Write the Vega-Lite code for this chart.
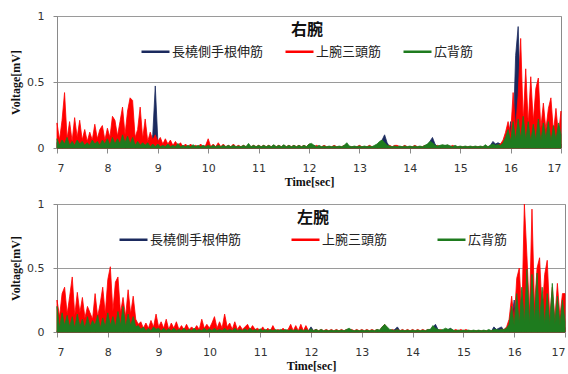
{
"$schema":"https://vega.github.io/schema/vega-lite/v6.json",
"padding":{"left":9,"top":9,"right":0,"bottom":0},
"spacing":9,
"config":{
 "view":{"stroke":"#8a8a8a"},
 "axis":{"domainColor":"#8a8a8a","tickColor":"#8a8a8a","gridColor":"#9a9a9a","labelFont":"DejaVu Sans","labelFontSize":11,"labelColor":"#333333","titleFont":"Liberation Serif","titleFontWeight":"bold","titleFontSize":12,"titleColor":"#111111"},
 "axisX":{"grid":false,"tickSize":5,"labelPadding":9,"titlePadding":3},
 "axisY":{"grid":true,"tickSize":4,"labelPadding":9,"titlePadding":4},
 "legend":{"labelFont":"Noto Sans CJK JP","labelFontSize":13,"labelColor":"#222222","symbolType":"stroke","symbolSize":784,"symbolStrokeWidth":2.5,"labelOffset":1,"padding":0,"rowPadding":0,"titleFont":"Noto Sans CJK JP","titleFontWeight":"bold","titleFontSize":16,"titleColor":"#111111","titleAnchor":"middle","titlePadding":-2}
},
"data":{"values":[
{"t":7.00,"a":0.04,"b":0.19,"c":0.07,"d":0.01,"e":0.25,"f":0.2},
{"t":7.05,"a":0.015,"b":0.06,"c":0.02,"d":0.005,"e":0.12,"f":0.03},
{"t":7.10,"a":0.05,"b":0.21,"c":0.06,"d":0.015,"e":0.3,"f":0.15},
{"t":7.15,"a":0.02,"b":0.42,"c":0.03,"d":0.01,"e":0.35,"f":0.05},
{"t":7.20,"a":0.04,"b":0.07,"c":0.08,"d":0.02,"e":0.14,"f":0.13},
{"t":7.25,"a":0.01,"b":0.2,"c":0.02,"d":0.005,"e":0.28,"f":0.04},
{"t":7.30,"a":0.05,"b":0.05,"c":0.05,"d":0.015,"e":0.43,"f":0.12},
{"t":7.35,"a":0.02,"b":0.23,"c":0.02,"d":0.01,"e":0.13,"f":0.03},
{"t":7.40,"a":0.04,"b":0.08,"c":0.06,"d":0.02,"e":0.31,"f":0.14},
{"t":7.45,"a":0.015,"b":0.21,"c":0.03,"d":0.005,"e":0.15,"f":0.04},
{"t":7.50,"a":0.035,"b":0.06,"c":0.05,"d":0.015,"e":0.27,"f":0.1},
{"t":7.55,"a":0.01,"b":0.14,"c":0.02,"d":0.01,"e":0.11,"f":0.03},
{"t":7.60,"a":0.04,"b":0.05,"c":0.04,"d":0.02,"e":0.2,"f":0.12},
{"t":7.65,"a":0.02,"b":0.12,"c":0.02,"d":0.005,"e":0.15,"f":0.04},
{"t":7.70,"a":0.045,"b":0.06,"c":0.06,"d":0.015,"e":0.1,"f":0.09},
{"t":7.75,"a":0.01,"b":0.18,"c":0.03,"d":0.01,"e":0.3,"f":0.05},
{"t":7.80,"a":0.04,"b":0.07,"c":0.05,"d":0.02,"e":0.12,"f":0.13},
{"t":7.85,"a":0.015,"b":0.14,"c":0.02,"d":0.005,"e":0.22,"f":0.03},
{"t":7.90,"a":0.05,"b":0.17,"c":0.06,"d":0.015,"e":0.35,"f":0.11},
{"t":7.95,"a":0.02,"b":0.06,"c":0.03,"d":0.01,"e":0.14,"f":0.04},
{"t":8.00,"a":0.045,"b":0.15,"c":0.07,"d":0.02,"e":0.41,"f":0.15},
{"t":8.05,"a":0.015,"b":0.08,"c":0.02,"d":0.005,"e":0.51,"f":0.05},
{"t":8.10,"a":0.05,"b":0.24,"c":0.08,"d":0.015,"e":0.16,"f":0.12},
{"t":8.15,"a":0.02,"b":0.21,"c":0.03,"d":0.01,"e":0.39,"f":0.04},
{"t":8.20,"a":0.06,"b":0.09,"c":0.07,"d":0.02,"e":0.43,"f":0.16},
{"t":8.25,"a":0.02,"b":0.2,"c":0.03,"d":0.005,"e":0.15,"f":0.05},
{"t":8.30,"a":0.06,"b":0.31,"c":0.1,"d":0.015,"e":0.27,"f":0.2},
{"t":8.35,"a":0.025,"b":0.1,"c":0.04,"d":0.01,"e":0.12,"f":0.04},
{"t":8.40,"a":0.05,"b":0.28,"c":0.09,"d":0.02,"e":0.33,"f":0.14},
{"t":8.45,"a":0.02,"b":0.38,"c":0.03,"d":0.005,"e":0.14,"f":0.05},
{"t":8.50,"a":0.05,"b":0.36,"c":0.08,"d":0.015,"e":0.28,"f":0.12},
{"t":8.55,"a":0.015,"b":0.08,"c":0.02,"d":0.01,"e":0.1,"f":0.04},
{"t":8.60,"a":0.04,"b":0.14,"c":0.05,"d":0.01,"e":0.06,"f":0.05},
{"t":8.65,"a":0.015,"b":0.31,"c":0.02,"d":0.005,"e":0.08,"f":0.02},
{"t":8.70,"a":0.03,"b":0.07,"c":0.04,"d":0.01,"e":0.03,"f":0.04},
{"t":8.75,"a":0.01,"b":0.22,"c":0.02,"d":0.005,"e":0.07,"f":0.01},
{"t":8.80,"a":0.03,"b":0.05,"c":0.04,"d":0.01,"e":0.03,"f":0.03},
{"t":8.85,"a":0.01,"b":0.12,"c":0.01,"d":0.005,"e":0.09,"f":0.01},
{"t":8.90,"a":0.1,"b":0.06,"c":0.03,"d":0.01,"e":0.04,"f":0.04},
{"t":8.95,"a":0.47,"b":0.1,"c":0.01,"d":0.005,"e":0.14,"f":0.02},
{"t":9.00,"a":0.06,"b":0.05,"c":0.03,"d":0.01,"e":0.04,"f":0.03},
{"t":9.05,"a":0.01,"b":0.08,"c":0.01,"d":0.005,"e":0.08,"f":0.01},
{"t":9.10,"a":0.02,"b":0.03,"c":0.02,"d":0.01,"e":0.03,"f":0.03},
{"t":9.15,"a":0.01,"b":0.07,"c":0.01,"d":0.005,"e":0.1,"f":0.01},
{"t":9.20,"a":0.02,"b":0.03,"c":0.03,"d":0.01,"e":0.02,"f":0.025},
{"t":9.25,"a":0.005,"b":0.06,"c":0.01,"d":0.005,"e":0.07,"f":0.01},
{"t":9.30,"a":0.015,"b":0.02,"c":0.02,"d":0.01,"e":0.03,"f":0.03},
{"t":9.35,"a":0.005,"b":0.05,"c":0.01,"d":0.005,"e":0.08,"f":0.01},
{"t":9.40,"a":0.02,"b":0.02,"c":0.035,"d":0.01,"e":0.02,"f":0.02},
{"t":9.45,"a":0.005,"b":0.04,"c":0.01,"d":0.005,"e":0.05,"f":0.01},
{"t":9.50,"a":0.015,"b":0.01,"c":0.02,"d":0.01,"e":0.02,"f":0.03},
{"t":9.55,"a":0.005,"b":0.03,"c":0.01,"d":0.005,"e":0.06,"f":0.01},
{"t":9.60,"a":0.01,"b":0.01,"c":0.02,"d":0.01,"e":0.02,"f":0.02},
{"t":9.65,"a":0.005,"b":0.03,"c":0.01,"d":0.005,"e":0.04,"f":0.01},
{"t":9.70,"a":0.015,"b":0.01,"c":0.025,"d":0.01,"e":0.02,"f":0.03},
{"t":9.75,"a":0.005,"b":0.02,"c":0.01,"d":0.005,"e":0.05,"f":0.01},
{"t":9.80,"a":0.01,"b":0.01,"c":0.02,"d":0.01,"e":0.02,"f":0.02},
{"t":9.85,"a":0.005,"b":0.03,"c":0.01,"d":0.005,"e":0.1,"f":0.01},
{"t":9.90,"a":0.015,"b":0.01,"c":0.02,"d":0.01,"e":0.03,"f":0.03},
{"t":9.95,"a":0.005,"b":0.02,"c":0.01,"d":0.005,"e":0.06,"f":0.01},
{"t":10.00,"a":0.01,"b":0.07,"c":0.02,"d":0.01,"e":0.03,"f":0.025},
{"t":10.05,"a":0.005,"b":0.01,"c":0.01,"d":0.005,"e":0.07,"f":0.01},
{"t":10.10,"a":0.015,"b":0.03,"c":0.02,"d":0.01,"e":0.12,"f":0.03},
{"t":10.15,"a":0.005,"b":0.01,"c":0.01,"d":0.005,"e":0.03,"f":0.01},
{"t":10.20,"a":0.01,"b":0.04,"c":0.02,"d":0.01,"e":0.08,"f":0.02},
{"t":10.25,"a":0.005,"b":0.01,"c":0.01,"d":0.005,"e":0.03,"f":0.01},
{"t":10.30,"a":0.015,"b":0.03,"c":0.02,"d":0.01,"e":0.14,"f":0.03},
{"t":10.35,"a":0.005,"b":0.01,"c":0.01,"d":0.005,"e":0.04,"f":0.01},
{"t":10.40,"a":0.01,"b":0.02,"c":0.02,"d":0.01,"e":0.07,"f":0.02},
{"t":10.45,"a":0.005,"b":0.01,"c":0.01,"d":0.005,"e":0.02,"f":0.01},
{"t":10.50,"a":0.015,"b":0.03,"c":0.02,"d":0.01,"e":0.08,"f":0.03},
{"t":10.55,"a":0.005,"b":0.01,"c":0.01,"d":0.005,"e":0.02,"f":0.01},
{"t":10.60,"a":0.01,"b":0.02,"c":0.015,"d":0.01,"e":0.05,"f":0.02},
{"t":10.65,"a":0.005,"b":0.01,"c":0.01,"d":0.005,"e":0.02,"f":0.01},
{"t":10.70,"a":0.01,"b":0.02,"c":0.02,"d":0.01,"e":0.04,"f":0.025},
{"t":10.75,"a":0.005,"b":0.01,"c":0.01,"d":0.005,"e":0.06,"f":0.01},
{"t":10.80,"a":0.015,"b":0.02,"c":0.035,"d":0.01,"e":0.02,"f":0.03},
{"t":10.85,"a":0.005,"b":0.01,"c":0.01,"d":0.005,"e":0.05,"f":0.01},
{"t":10.90,"a":0.01,"b":0.02,"c":0.02,"d":0.01,"e":0.02,"f":0.02},
{"t":10.95,"a":0.005,"b":0.01,"c":0.01,"d":0.005,"e":0.03,"f":0.01},
{"t":11.00,"a":0.015,"b":0.02,"c":0.02,"d":0.01,"e":0.01,"f":0.025},
{"t":11.05,"a":0.005,"b":0.01,"c":0.01,"d":0.005,"e":0.04,"f":0.01},
{"t":11.10,"a":0.01,"b":0.02,"c":0.02,"d":0.01,"e":0.01,"f":0.02},
{"t":11.15,"a":0.005,"b":0.01,"c":0.01,"d":0.005,"e":0.03,"f":0.01},
{"t":11.20,"a":0.01,"b":0.02,"c":0.02,"d":0.01,"e":0.01,"f":0.02},
{"t":11.25,"a":0.005,"b":0.01,"c":0.01,"d":0.005,"e":0.05,"f":0.01},
{"t":11.30,"a":0.015,"b":0.02,"c":0.025,"d":0.01,"e":0.01,"f":0.02},
{"t":11.35,"a":0.005,"b":0.01,"c":0.01,"d":0.005,"e":0.02,"f":0.01},
{"t":11.40,"a":0.01,"b":0.02,"c":0.02,"d":0.01,"e":0.01,"f":0.02},
{"t":11.45,"a":0.005,"b":0.01,"c":0.01,"d":0.005,"e":0.03,"f":0.01},
{"t":11.50,"a":0.015,"b":0.02,"c":0.025,"d":0.01,"e":0.01,"f":0.02},
{"t":11.55,"a":0.005,"b":0.01,"c":0.01,"d":0.005,"e":0.02,"f":0.01},
{"t":11.60,"a":0.01,"b":0.02,"c":0.02,"d":0.01,"e":0.06,"f":0.02},
{"t":11.65,"a":0.005,"b":0.01,"c":0.01,"d":0.005,"e":0.01,"f":0.01},
{"t":11.70,"a":0.01,"b":0.02,"c":0.02,"d":0.01,"e":0.05,"f":0.02},
{"t":11.75,"a":0.005,"b":0.01,"c":0.01,"d":0.005,"e":0.01,"f":0.01},
{"t":11.80,"a":0.015,"b":0.02,"c":0.02,"d":0.01,"e":0.06,"f":0.02},
{"t":11.85,"a":0.005,"b":0.01,"c":0.01,"d":0.005,"e":0.01,"f":0.01},
{"t":11.90,"a":0.01,"b":0.02,"c":0.02,"d":0.02,"e":0.05,"f":0.02},
{"t":11.95,"a":0.005,"b":0.01,"c":0.01,"d":0.01,"e":0.01,"f":0.01},
{"t":12.00,"a":0.02,"b":0.03,"c":0.03,"d":0.04,"e":0.02,"f":0.025},
{"t":12.05,"a":0.01,"b":0.02,"c":0.035,"d":0.01,"e":0.01,"f":0.01},
{"t":12.10,"a":0.02,"b":0.01,"c":0.02,"d":0.02,"e":0.02,"f":0.02},
{"t":12.15,"a":0.005,"b":0.02,"c":0.01,"d":0.005,"e":0.01,"f":0.01},
{"t":12.20,"a":0.01,"b":0.01,"c":0.02,"d":0.01,"e":0.02,"f":0.02},
{"t":12.25,"a":0.005,"b":0.01,"c":0.01,"d":0.005,"e":0.01,"f":0.01},
{"t":12.30,"a":0.01,"b":0.02,"c":0.015,"d":0.01,"e":0.02,"f":0.015},
{"t":12.35,"a":0.005,"b":0.01,"c":0.01,"d":0.005,"e":0.01,"f":0.01},
{"t":12.40,"a":0.01,"b":0.01,"c":0.015,"d":0.01,"e":0.02,"f":0.015},
{"t":12.45,"a":0.005,"b":0.01,"c":0.01,"d":0.005,"e":0.01,"f":0.01},
{"t":12.50,"a":0.01,"b":0.02,"c":0.015,"d":0.01,"e":0.02,"f":0.015},
{"t":12.55,"a":0.005,"b":0.01,"c":0.01,"d":0.005,"e":0.01,"f":0.01},
{"t":12.60,"a":0.01,"b":0.01,"c":0.015,"d":0.01,"e":0.02,"f":0.015},
{"t":12.65,"a":0.005,"b":0.01,"c":0.01,"d":0.005,"e":0.01,"f":0.01},
{"t":12.70,"a":0.01,"b":0.02,"c":0.02,"d":0.01,"e":0.02,"f":0.02},
{"t":12.75,"a":0.01,"b":0.02,"c":0.04,"d":0.005,"e":0.01,"f":0.03},
{"t":12.80,"a":0.01,"b":0.01,"c":0.015,"d":0.01,"e":0.02,"f":0.015},
{"t":12.85,"a":0.005,"b":0.01,"c":0.01,"d":0.005,"e":0.01,"f":0.01},
{"t":12.90,"a":0.01,"b":0.01,"c":0.015,"d":0.01,"e":0.02,"f":0.015},
{"t":12.95,"a":0.005,"b":0.01,"c":0.01,"d":0.005,"e":0.01,"f":0.01},
{"t":13.00,"a":0.01,"b":0.02,"c":0.015,"d":0.01,"e":0.02,"f":0.015},
{"t":13.05,"a":0.005,"b":0.01,"c":0.01,"d":0.005,"e":0.01,"f":0.01},
{"t":13.10,"a":0.01,"b":0.01,"c":0.015,"d":0.01,"e":0.02,"f":0.015},
{"t":13.15,"a":0.005,"b":0.01,"c":0.01,"d":0.005,"e":0.01,"f":0.01},
{"t":13.20,"a":0.01,"b":0.02,"c":0.015,"d":0.01,"e":0.02,"f":0.015},
{"t":13.25,"a":0.005,"b":0.01,"c":0.01,"d":0.005,"e":0.01,"f":0.01},
{"t":13.30,"a":0.01,"b":0.01,"c":0.02,"d":0.01,"e":0.02,"f":0.02},
{"t":13.35,"a":0.01,"b":0.02,"c":0.03,"d":0.005,"e":0.01,"f":0.015},
{"t":13.40,"a":0.03,"b":0.02,"c":0.05,"d":0.01,"e":0.04,"f":0.04},
{"t":13.45,"a":0.06,"b":0.03,"c":0.06,"d":0.01,"e":0.06,"f":0.06},
{"t":13.50,"a":0.1,"b":0.02,"c":0.04,"d":0.01,"e":0.03,"f":0.04},
{"t":13.55,"a":0.04,"b":0.01,"c":0.02,"d":0.005,"e":0.01,"f":0.02},
{"t":13.60,"a":0.01,"b":0.02,"c":0.015,"d":0.01,"e":0.02,"f":0.015},
{"t":13.65,"a":0.005,"b":0.01,"c":0.01,"d":0.02,"e":0.01,"f":0.01},
{"t":13.70,"a":0.01,"b":0.02,"c":0.015,"d":0.04,"e":0.02,"f":0.02},
{"t":13.75,"a":0.005,"b":0.02,"c":0.01,"d":0.01,"e":0.01,"f":0.01},
{"t":13.80,"a":0.01,"b":0.01,"c":0.015,"d":0.01,"e":0.02,"f":0.015},
{"t":13.85,"a":0.005,"b":0.01,"c":0.01,"d":0.005,"e":0.01,"f":0.01},
{"t":13.90,"a":0.01,"b":0.02,"c":0.015,"d":0.01,"e":0.02,"f":0.015},
{"t":13.95,"a":0.005,"b":0.01,"c":0.01,"d":0.005,"e":0.01,"f":0.01},
{"t":14.00,"a":0.01,"b":0.01,"c":0.015,"d":0.01,"e":0.02,"f":0.015},
{"t":14.05,"a":0.005,"b":0.01,"c":0.01,"d":0.005,"e":0.01,"f":0.01},
{"t":14.10,"a":0.01,"b":0.02,"c":0.015,"d":0.01,"e":0.02,"f":0.015},
{"t":14.15,"a":0.005,"b":0.01,"c":0.01,"d":0.005,"e":0.01,"f":0.01},
{"t":14.20,"a":0.01,"b":0.01,"c":0.015,"d":0.01,"e":0.02,"f":0.015},
{"t":14.25,"a":0.005,"b":0.01,"c":0.01,"d":0.005,"e":0.01,"f":0.01},
{"t":14.30,"a":0.01,"b":0.02,"c":0.02,"d":0.01,"e":0.02,"f":0.02},
{"t":14.35,"a":0.02,"b":0.01,"c":0.03,"d":0.02,"e":0.01,"f":0.02},
{"t":14.40,"a":0.05,"b":0.02,"c":0.05,"d":0.04,"e":0.03,"f":0.05},
{"t":14.45,"a":0.08,"b":0.02,"c":0.04,"d":0.06,"e":0.02,"f":0.03},
{"t":14.50,"a":0.03,"b":0.01,"c":0.02,"d":0.02,"e":0.01,"f":0.02},
{"t":14.55,"a":0.01,"b":0.02,"c":0.015,"d":0.01,"e":0.02,"f":0.015},
{"t":14.60,"a":0.015,"b":0.01,"c":0.02,"d":0.01,"e":0.01,"f":0.02},
{"t":14.65,"a":0.01,"b":0.02,"c":0.025,"d":0.01,"e":0.02,"f":0.03},
{"t":14.70,"a":0.02,"b":0.01,"c":0.02,"d":0.02,"e":0.01,"f":0.02},
{"t":14.75,"a":0.01,"b":0.02,"c":0.025,"d":0.03,"e":0.02,"f":0.025},
{"t":14.80,"a":0.015,"b":0.01,"c":0.015,"d":0.01,"e":0.01,"f":0.015},
{"t":14.85,"a":0.005,"b":0.02,"c":0.01,"d":0.005,"e":0.02,"f":0.01},
{"t":14.90,"a":0.01,"b":0.01,"c":0.02,"d":0.01,"e":0.01,"f":0.015},
{"t":14.95,"a":0.005,"b":0.01,"c":0.01,"d":0.005,"e":0.02,"f":0.01},
{"t":15.00,"a":0.01,"b":0.01,"c":0.015,"d":0.01,"e":0.01,"f":0.015},
{"t":15.05,"a":0.005,"b":0.01,"c":0.01,"d":0.005,"e":0.02,"f":0.01},
{"t":15.10,"a":0.01,"b":0.01,"c":0.015,"d":0.01,"e":0.01,"f":0.015},
{"t":15.15,"a":0.005,"b":0.01,"c":0.01,"d":0.005,"e":0.01,"f":0.01},
{"t":15.20,"a":0.01,"b":0.01,"c":0.015,"d":0.01,"e":0.01,"f":0.015},
{"t":15.25,"a":0.005,"b":0.01,"c":0.01,"d":0.005,"e":0.01,"f":0.01},
{"t":15.30,"a":0.01,"b":0.01,"c":0.015,"d":0.01,"e":0.01,"f":0.015},
{"t":15.35,"a":0.005,"b":0.01,"c":0.01,"d":0.005,"e":0.01,"f":0.01},
{"t":15.40,"a":0.01,"b":0.01,"c":0.015,"d":0.01,"e":0.01,"f":0.015},
{"t":15.45,"a":0.005,"b":0.01,"c":0.01,"d":0.005,"e":0.01,"f":0.01},
{"t":15.50,"a":0.015,"b":0.01,"c":0.025,"d":0.01,"e":0.01,"f":0.02},
{"t":15.55,"a":0.005,"b":0.01,"c":0.01,"d":0.005,"e":0.01,"f":0.01},
{"t":15.60,"a":0.02,"b":0.01,"c":0.02,"d":0.04,"e":0.01,"f":0.02},
{"t":15.65,"a":0.05,"b":0.02,"c":0.03,"d":0.02,"e":0.01,"f":0.02},
{"t":15.70,"a":0.03,"b":0.01,"c":0.02,"d":0.03,"e":0.01,"f":0.015},
{"t":15.75,"a":0.04,"b":0.02,"c":0.025,"d":0.04,"e":0.02,"f":0.02},
{"t":15.80,"a":0.03,"b":0.03,"c":0.02,"d":0.01,"e":0.02,"f":0.02},
{"t":15.85,"a":0.02,"b":0.06,"c":0.04,"d":0.03,"e":0.04,"f":0.03},
{"t":15.90,"a":0.06,"b":0.12,"c":0.08,"d":0.04,"e":0.1,"f":0.06},
{"t":15.95,"a":0.04,"b":0.2,"c":0.14,"d":0.1,"e":0.28,"f":0.2},
{"t":16.00,"a":0.2,"b":0.1,"c":0.05,"d":0.25,"e":0.08,"f":0.05},
{"t":16.05,"a":0.08,"b":0.42,"c":0.2,"d":0.05,"e":0.42,"f":0.3},
{"t":16.10,"a":0.7,"b":0.15,"c":0.06,"d":0.12,"e":0.5,"f":0.06},
{"t":16.15,"a":0.92,"b":0.4,"c":0.22,"d":0.2,"e":0.12,"f":0.35},
{"t":16.20,"a":0.3,"b":0.83,"c":0.07,"d":0.04,"e":1.0,"f":0.07},
{"t":16.25,"a":0.1,"b":0.2,"c":0.24,"d":0.1,"e":0.6,"f":0.49},
{"t":16.30,"a":0.04,"b":0.6,"c":0.06,"d":0.03,"e":0.15,"f":0.06},
{"t":16.35,"a":0.09,"b":0.18,"c":0.2,"d":0.08,"e":0.96,"f":0.45},
{"t":16.40,"a":0.03,"b":0.54,"c":0.05,"d":0.02,"e":0.2,"f":0.08},
{"t":16.45,"a":0.1,"b":0.2,"c":0.18,"d":0.1,"e":0.5,"f":0.46},
{"t":16.50,"a":0.04,"b":0.45,"c":0.06,"d":0.03,"e":0.58,"f":0.07},
{"t":16.55,"a":0.08,"b":0.53,"c":0.22,"d":0.15,"e":0.15,"f":0.35},
{"t":16.60,"a":0.03,"b":0.15,"c":0.05,"d":0.02,"e":0.45,"f":0.06},
{"t":16.65,"a":0.06,"b":0.34,"c":0.19,"d":0.12,"e":0.56,"f":0.3},
{"t":16.70,"a":0.02,"b":0.14,"c":0.07,"d":0.03,"e":0.12,"f":0.05},
{"t":16.75,"a":0.05,"b":0.3,"c":0.2,"d":0.08,"e":0.35,"f":0.38},
{"t":16.80,"a":0.03,"b":0.38,"c":0.05,"d":0.02,"e":0.1,"f":0.06},
{"t":16.85,"a":0.06,"b":0.12,"c":0.17,"d":0.2,"e":0.38,"f":0.28},
{"t":16.90,"a":0.02,"b":0.3,"c":0.06,"d":0.04,"e":0.12,"f":0.05},
{"t":16.95,"a":0.05,"b":0.1,"c":0.19,"d":0.1,"e":0.3,"f":0.25},
{"t":17.00,"a":0.03,"b":0.28,"c":0.1,"d":0.03,"e":0.3,"f":0.08}
]},
"vconcat":[
 {
  "width":504,"height":132,
  "transform":[{"fold":["a","b","c"],"as":["k","v"]}],
  "mark":{"type":"area","strokeWidth":0.8,"interpolate":"linear"},
  "encoding":{
   "x":{"field":"t","type":"quantitative","scale":{"domain":[7,17],"nice":false,"zero":false},"axis":{"values":[7,8,9,10,11,12,13,14,15,16,17],"title":"Time[sec]"}},
   "y":{"field":"v","type":"quantitative","stack":null,"scale":{"domain":[0,1],"nice":false},"axis":{"values":[0,0.5,1],"format":"~g","title":"Voltage[mV]"}},
   "fill":{"field":"k","type":"nominal","scale":{"domain":["a","b","c"],"range":["#1B2A5E","#FF0000","#1E7B1E"]},
    "legend":{"title":"右腕","orient":"none","legendX":83,"legendY":6,"direction":"horizontal","columnPadding":16,
     "labelExpr":"datum.label == 'a' ? '長橈側手根伸筋' : datum.label == 'b' ? '上腕三頭筋' : '広背筋'"}},
   "stroke":{"field":"k","type":"nominal","scale":{"domain":["a","b","c"],"range":["#1B2A5E","#FF0000","#1E7B1E"]},
    "legend":{"title":"右腕","orient":"none","legendX":83,"legendY":6,"direction":"horizontal","columnPadding":16,
     "labelExpr":"datum.label == 'a' ? '長橈側手根伸筋' : datum.label == 'b' ? '上腕三頭筋' : '広背筋'"}}
  }
 },
 {
  "width":508,"height":128,
  "transform":[{"fold":["d","e","f"],"as":["k","v"]}],
  "mark":{"type":"area","strokeWidth":0.8,"interpolate":"linear"},
  "encoding":{
   "x":{"field":"t","type":"quantitative","scale":{"domain":[7,17],"nice":false,"zero":false},"axis":{"values":[7,8,9,10,11,12,13,14,15,16,17],"title":"Time[sec]"}},
   "y":{"field":"v","type":"quantitative","stack":null,"scale":{"domain":[0,1],"nice":false},"axis":{"values":[0,0.5,1],"format":"~g","title":"Voltage[mV]"}},
   "fill":{"field":"k","type":"nominal","scale":{"domain":["d","e","f"],"range":["#1B2A5E","#FF0000","#1E7B1E"]},
    "legend":{"title":"左腕","orient":"none","legendX":61,"legendY":6,"direction":"horizontal","columnPadding":44,
     "labelExpr":"datum.label == 'd' ? '長橈側手根伸筋' : datum.label == 'e' ? '上腕三頭筋' : '広背筋'"}},
   "stroke":{"field":"k","type":"nominal","scale":{"domain":["d","e","f"],"range":["#1B2A5E","#FF0000","#1E7B1E"]},
    "legend":{"title":"左腕","orient":"none","legendX":61,"legendY":6,"direction":"horizontal","columnPadding":44,
     "labelExpr":"datum.label == 'd' ? '長橈側手根伸筋' : datum.label == 'e' ? '上腕三頭筋' : '広背筋'"}}
  }
 }
],
"resolve":{"scale":{"fill":"independent","stroke":"independent"},"legend":{"fill":"independent","stroke":"independent"}}
}
